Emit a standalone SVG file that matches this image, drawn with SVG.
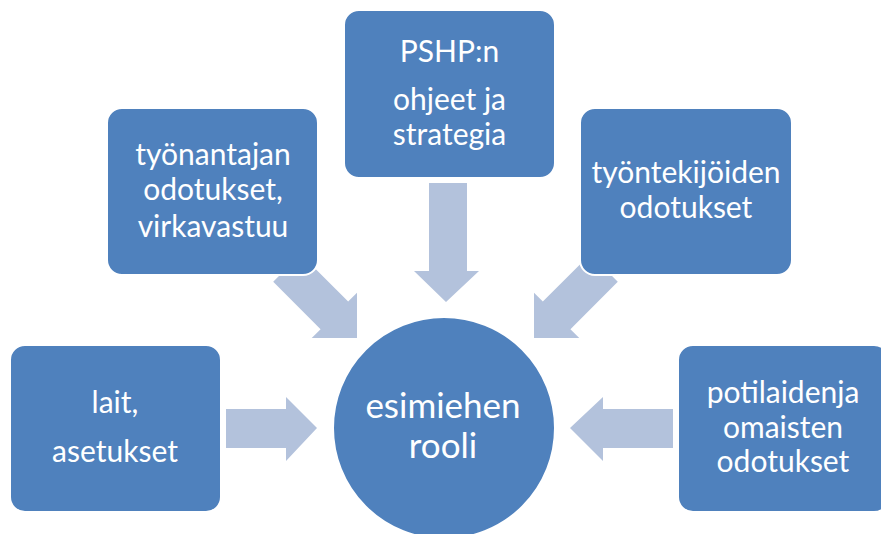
<svg xmlns="http://www.w3.org/2000/svg" width="881" height="534" viewBox="0 0 881 534">
<style>
.box{fill:#4F81BD;stroke:#FFFFFF;stroke-width:2}
.arr{fill:#B3C2DC}
.t{font-family:"Lato","Liberation Sans",sans-serif;font-size:30px;fill:#FFFFFF;text-anchor:middle}
.tc{font-family:"Lato","Liberation Sans",sans-serif;font-size:35px;fill:#FFFFFF;text-anchor:middle}
</style>
<rect width="881" height="534" fill="#FFFFFF"/>
<g id="connectors">
<polygon class="arr" points="226,409 286,409 286,397 317,428 286,461 286,448 226,448"/>
<polygon class="arr" points="673,409 603,409 603,397 570,428 603,461 603,448 673,448"/>
<polygon class="arr" points="429,183 467,183 467,271 479,271 446,302 414,271 429,271"/>
<polygon class="arr" transform="translate(357,338) rotate(45)" points="-99,-19.5 -32,-19.5 -32,-32 0,0 -32,32 -32,19.5 -99,19.5"/>
<polygon class="arr" transform="translate(534,338) rotate(135)" points="-99,-19.5 -32,-19.5 -32,-32 0,0 -32,32 -32,19.5 -99,19.5"/>
</g>
<g id="n-center">
<circle class="box" cx="444" cy="428" r="111"/>
<text class="tc" x="443" y="418">esimiehen</text>
<text class="tc" x="443" y="458">rooli</text>
</g>
<g id="n-pshp">
<rect class="box" x="344" y="10" width="211" height="168" rx="15"/>
<text class="t" x="449.5" y="62">PSHP:n</text>
<text class="t" x="449.5" y="110">ohjeet ja</text>
<text class="t" x="449.5" y="145">strategia</text>
</g>
<g id="n-tyonantaja">
<rect class="box" x="107" y="108" width="211" height="167" rx="15"/>
<text class="t" x="213" y="165">työnantajan</text>
<text class="t" x="213" y="200">odotukset,</text>
<text class="t" x="213" y="237">virkavastuu</text>
</g>
<g id="n-tyontekijat">
<rect class="box" x="580" y="108" width="212" height="167" rx="15"/>
<text class="t" x="686" y="183">työntekijöiden</text>
<text class="t" x="686" y="218">odotukset</text>
</g>
<g id="n-lait">
<rect class="box" x="10" y="345" width="211" height="167" rx="15"/>
<text class="t" x="115" y="413">lait,</text>
<text class="t" x="115" y="462">asetukset</text>
</g>
<g id="n-potilaat">
<rect class="box" x="678" y="345" width="211" height="167" rx="15"/>
<text class="t" x="783" y="403">potilaidenja</text>
<text class="t" x="783" y="438">omaisten</text>
<text class="t" x="783" y="472">odotukset</text>
</g>
</svg>
